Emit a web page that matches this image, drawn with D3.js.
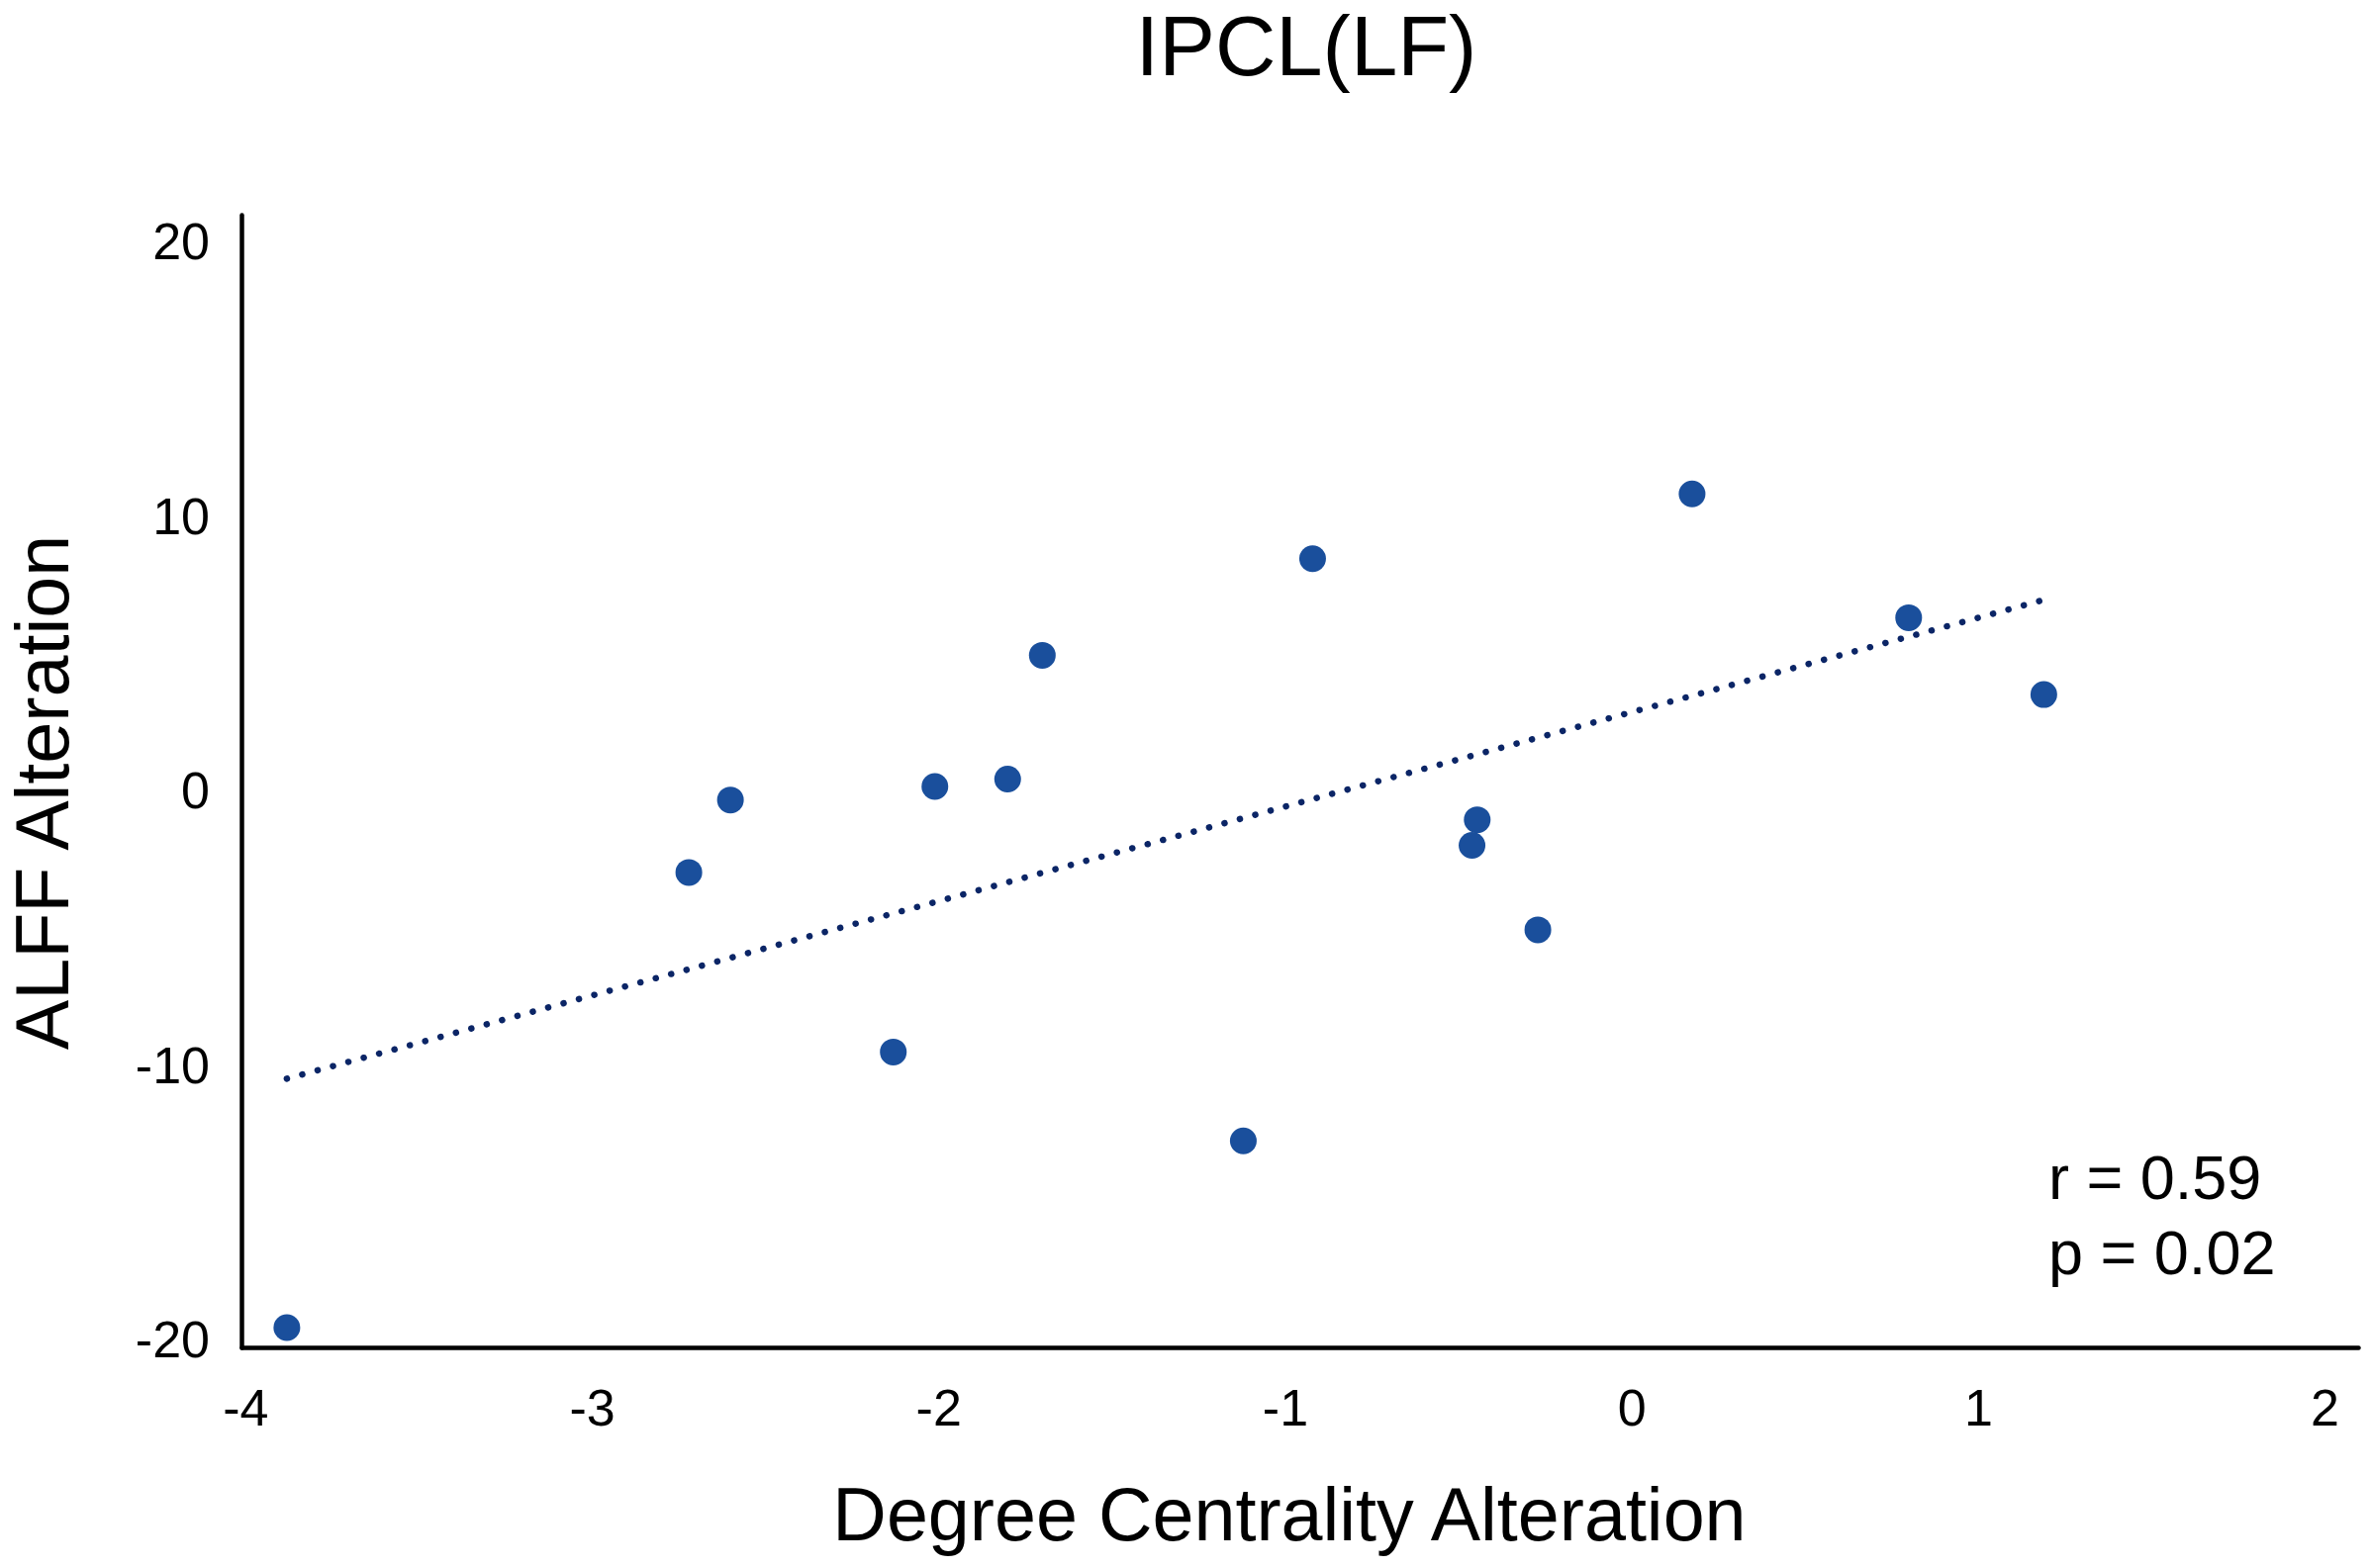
<!DOCTYPE html>
<html>
<head>
<meta charset="utf-8">
<script src="https://cdn.jsdelivr.net/npm/d3@7"></script>
<style>
  body { margin: 0; background: #fff; }
  svg { display: block; font-family: "Liberation Sans", Arial, sans-serif; }
</style>
</head>
<body>
<svg id="chart"></svg>
<script>
// values
const dcAlteration = [-3.88, -2.72, -2.60, -2.13, -2.01, -1.80, -1.70, -1.12, -0.92, -0.445, -0.46, -0.27, 0.175, 0.80, 1.19];
const alffAlteration = [-19.6, -3.02, -0.38, -9.56, 0.11, 0.38, 4.89, -12.8, 8.41, -1.10, -2.03, -5.11, 10.77, 6.26, 3.46];
const xTicks = [-4, -3, -2, -1, 0, 1, 2];
const yTicks = [-20, -10, 0, 10, 20];
const statLines = ["r = 0.59", "p = 0.02"];
const chartTitle = "IPCL(LF)";
const xTitle = "Degree Centrality Alteration";
const yTitle = "ALFF Alteration";

const points = dcAlteration.map((x, i) => ({x: x, y: alffAlteration[i]}));

let svg = d3.select("#chart")
    .attr("width", 2396)
    .attr("height", 1585);

svg.append("rect")
  .attr("width", 2396)
  .attr("height", 1585)
  .attr("fill", "#fff");

// axis lines run a little past the outer ticks, as in the figure
let xScale = d3.scaleLinear()
  .domain([-4.011, 2.097])
  .range([244, 2383]);

let yScale = d3.scaleLinear()
  .domain([-20.32, 20.94])
  .range([1362, 217]);

// least squares fit for the dotted trend line
let mx = d3.mean(points, d => d.x),
  my = d3.mean(points, d => d.y),
  sxy = d3.sum(points, d => (d.x - mx) * (d.y - my)),
  sxx = d3.sum(points, d => (d.x - mx) * (d.x - mx)),
  slope = sxy / sxx,
  icept = my - slope * mx;
let xExt = d3.extent(points, d => d.x);
let fit = xExt.map(x => ({x: x, y: icept + slope * x}));

// x axis
let xAxis = svg.append("g")
  .attr("transform", "translate(0," + yScale.range()[0] + ")")
  .call(d3.axisBottom(xScale).tickValues(xTicks).tickSize(0).tickSizeOuter(0).tickFormat(d3.format("d")));
xAxis.select(".domain")
  .attr("stroke", "#000")
  .attr("stroke-width", 4.5)
  .attr("stroke-linecap", "round");
xAxis.selectAll("text")
  .attr("y", 79)
  .attr("dy", null)
  .attr("fill", "#000")
  .style("font-size", "52px")
  .style("font-family", "Liberation Sans, Arial, sans-serif")
  .text(d => d < 0 ? "-" + Math.abs(d) : d);

// y axis
let yAxis = svg.append("g")
  .attr("transform", "translate(" + xScale.range()[0] + ",0)")
  .call(d3.axisLeft(yScale).tickValues(yTicks).tickSize(0).tickSizeOuter(0).tickPadding(32));
yAxis.select(".domain")
  .attr("stroke", "#000")
  .attr("stroke-width", 4.5)
  .attr("stroke-linecap", "round");
yAxis.selectAll("text")
  .attr("dy", "0.36em")
  .attr("fill", "#000")
  .style("font-size", "52px")
  .style("font-family", "Liberation Sans, Arial, sans-serif")
  .text(d => d < 0 ? "-" + Math.abs(d) : d);

// trend line
let line = d3.line()
  .x(d => xScale(d.x))
  .y(d => yScale(d.y));

svg.append("path")
  .datum(fit)
  .attr("fill", "none")
  .attr("stroke", "#0b2566")
  .attr("stroke-width", 6.5)
  .attr("stroke-linecap", "round")
  .attr("stroke-dasharray", "0.1,16")
  .attr("d", line);

// points
svg.append("g")
  .selectAll("circle")
  .data(points)
  .enter().append("circle")
  .attr("cx", d => xScale(d.x))
  .attr("cy", d => yScale(d.y))
  .attr("r", 13.5)
  .attr("fill", "#1a4f9c");

// titles
svg.append("text")
  .attr("x", 1320)
  .attr("y", 76)
  .attr("text-anchor", "middle")
  .style("font-size", "85px")
  .text(chartTitle);

svg.append("text")
  .attr("x", 1303)
  .attr("y", 1557)
  .attr("text-anchor", "middle")
  .style("font-size", "75.5px")
  .text(xTitle);

svg.append("text")
  .attr("transform", "translate(69,801) rotate(-90)")
  .attr("text-anchor", "middle")
  .style("font-size", "75.5px")
  .text(yTitle);

// r and p
svg.append("g")
  .selectAll("text")
  .data(statLines)
  .enter().append("text")
  .attr("x", 2070)
  .attr("y", (d, i) => 1212 + i * 76)
  .style("font-size", "63px")
  .text(d => d);
</script>
</body>
</html>
